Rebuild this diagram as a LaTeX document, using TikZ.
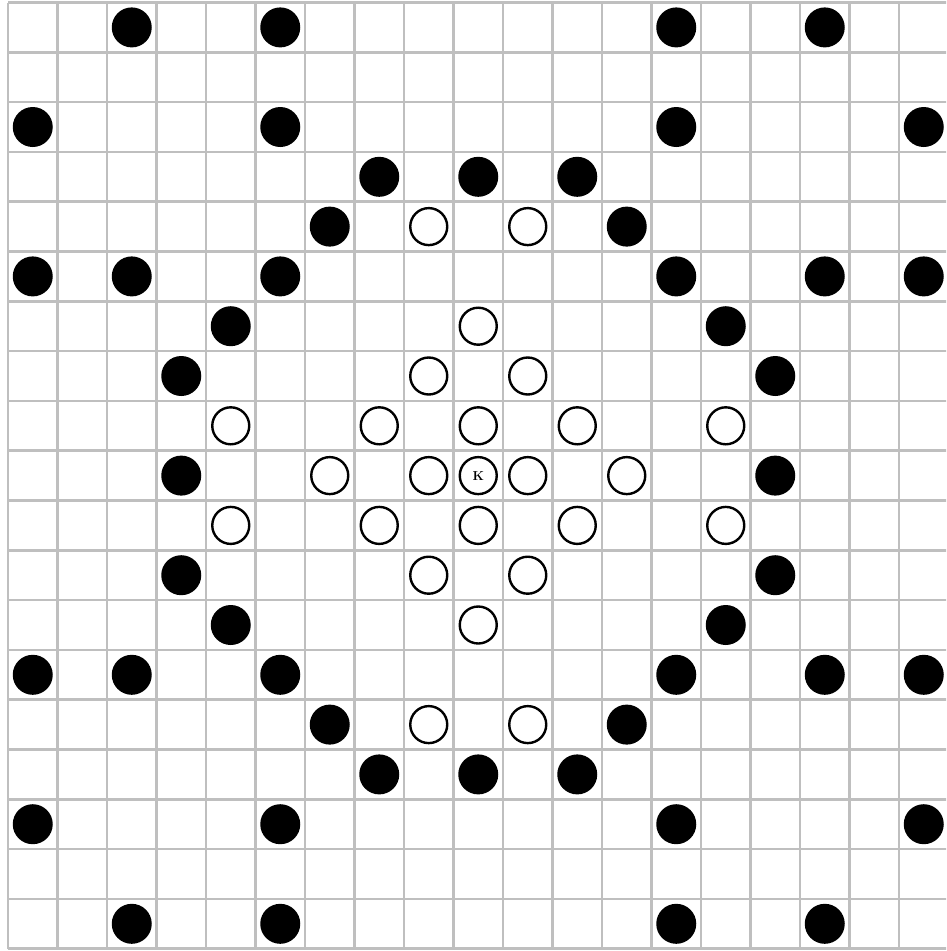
\documentclass[tikz,border=0pt]{standalone}
\begin{document}
\begin{tikzpicture}[x=1pt,y=-1pt,
  gridline/.style={draw=black!25,line width=2.6pt},
  blackdot/.style={circle,fill=black,minimum size=40pt,inner sep=0pt},
  whitedot/.style={circle,draw=black,fill=white,line width=2.4pt,minimum size=37pt,inner sep=0pt}]
\useasboundingbox (0,0) rectangle (946,951);
\fill[white] (0,0) rectangle (946,951);
\begin{scope}
\clip (0,0) rectangle (946,951);
\foreach \i in {0,...,19} {
  \draw[gridline] ({8+49.5*\i},2.5) -- ({8+49.5*\i},948.7);
  \draw[gridline] (8,{2.5+49.8*\i}) -- (958,{2.5+49.8*\i});
}
\end{scope}
\foreach \c/\r in {2/0,5/0,13/0,16/0,
  0/2,5/2,13/2,18/2,
  7/3,9/3,11/3,
  6/4,12/4,
  0/5,2/5,5/5,13/5,16/5,18/5,
  4/6,14/6,
  3/7,15/7,
  3/9,15/9,
  3/11,15/11,
  4/12,14/12,
  0/13,2/13,5/13,13/13,16/13,18/13,
  6/14,12/14,
  7/15,9/15,11/15,
  0/16,5/16,13/16,18/16,
  2/18,5/18,13/18,16/18}
  \node[blackdot] (b-\c-\r) at ({32.75+49.5*\c},{27.4+49.8*\r}) {};
\foreach \c/\r in {8/4,10/4,
  9/6,
  8/7,10/7,
  4/8,7/8,9/8,11/8,14/8,
  6/9,8/9,10/9,12/9,
  4/10,7/10,9/10,11/10,14/10,
  8/11,10/11,
  9/12,
  8/14,10/14}
  \node[whitedot] (w-\c-\r) at ({32.75+49.5*\c},{27.4+49.8*\r}) {};
\node[whitedot,font=\fontsize{13}{13}\selectfont\bfseries] (k) at ({32.75+49.5*9},{27.4+49.8*9}) {K};
\end{tikzpicture}
\end{document}
